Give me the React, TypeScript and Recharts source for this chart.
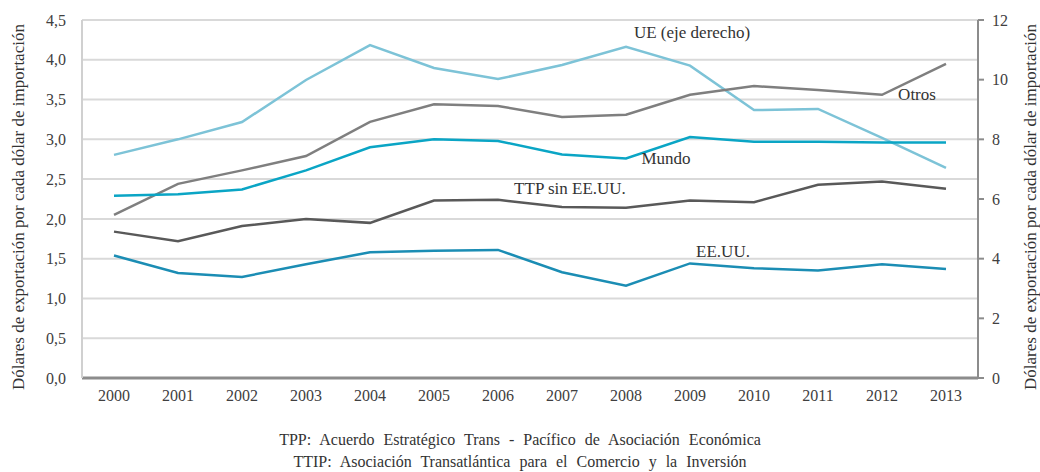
import React from "react";
import {
  LineChart,
  Line,
  XAxis,
  YAxis,
  CartesianGrid,
} from "recharts";

const years = [
  "2000", "2001", "2002", "2003", "2004", "2005", "2006",
  "2007", "2008", "2009", "2010", "2011", "2012", "2013",
];

// eje izquierdo
const mundo = [2.29, 2.31, 2.37, 2.61, 2.9, 3.0, 2.98, 2.81, 2.76, 3.03, 2.97, 2.97, 2.96, 2.96];
const otros = [2.05, 2.44, 2.61, 2.79, 3.22, 3.44, 3.42, 3.28, 3.31, 3.56, 3.67, 3.62, 3.56, 3.95];
const ttpSinEEUU = [1.84, 1.72, 1.91, 2.0, 1.95, 2.23, 2.24, 2.15, 2.14, 2.23, 2.21, 2.43, 2.47, 2.38];
const eeuu = [1.54, 1.32, 1.27, 1.43, 1.58, 1.6, 1.61, 1.33, 1.16, 1.44, 1.38, 1.35, 1.43, 1.37];
// eje derecho
const ue = [7.48, 8.0, 8.58, 9.99, 11.16, 10.39, 10.02, 10.49, 11.1, 10.47, 8.98, 9.02, 8.05, 7.04];

const leftTicks = [0, 0.5, 1, 1.5, 2, 2.5, 3, 3.5, 4, 4.5];
const rightTicks = [0, 2, 4, 6, 8, 10, 12];

const data = years.map((year, i) => ({
  year,
  mundo: mundo[i],
  otros: otros[i],
  ttp: ttpSinEEUU[i],
  eeuu: eeuu[i],
  ue: ue[i],
}));

const FONT = "'Liberation Serif', 'Times New Roman', Times, 'DejaVu Serif', serif";
const TEXT = "#404040";
const AXIS_TITLE = "Dólares de exportación por cada dólar de importación";

const tickStyle = { fontFamily: FONT, fontSize: 16, fill: TEXT };

const axisTitle = (dx: number) => (props: any) => {
  const vb = props.viewBox || {};
  const x = vb.x + dx;
  const y = vb.y + vb.height / 2 + 8;
  return (
    <text
      x={x}
      y={y}
      transform={`rotate(-90, ${x}, ${y})`}
      textAnchor="middle"
      dominantBaseline="central"
      fontFamily={FONT}
      fontSize={17}
      fill="#333"
    >
      {AXIS_TITLE}
    </text>
  );
};

const seriesLabels = [
  { text: "UE (eje derecho)", x: 692, y: 32 },
  { text: "Otros", x: 917, y: 94 },
  { text: "Mundo", x: 666, y: 158 },
  { text: "TTP sin EE.UU.", x: 570, y: 188 },
  { text: "EE.UU.", x: 723, y: 251 },
];

export default function App() {
  return (
    <div
      style={{
        position: "absolute",
        left: 0,
        top: 0,
        width: 1040,
        height: 472,
        background: "#fff",
        fontFamily: FONT,
      }}
    >
      <LineChart
        width={1040}
        height={472}
        data={data}
        margin={{ top: 20, right: 0, bottom: 64, left: 0 }}
      >
        <CartesianGrid
          yAxisId="left"
          vertical={false}
          stroke="#d9d9d9"
          strokeWidth={2}
        />
        <XAxis
          dataKey="year"
          height={30}
          padding={{ left: 32, right: 32 }}
          tickLine={false}
          axisLine={{ stroke: "#8c8c8c", strokeWidth: 3 }}
          tick={tickStyle}
          tickMargin={6}
          interval={0}
        />
        <YAxis
          yAxisId="left"
          width={82}
          domain={[0, 4.5]}
          ticks={leftTicks}
          interval={0}
          tickFormatter={(v: number) => v.toFixed(1).replace(".", ",")}
          tickLine={false}
          axisLine={{ stroke: "#d0d0d0", strokeWidth: 2 }}
          tick={tickStyle}
          tickMargin={10}
          label={{ content: axisTitle(18) }}
        />
        <YAxis
          yAxisId="right"
          orientation="right"
          width={62}
          domain={[0, 12]}
          ticks={rightTicks}
          interval={0}
          tickLine={{ stroke: "#8c8c8c", strokeWidth: 2 }}
          tickSize={6}
          axisLine={{ stroke: "#8c8c8c", strokeWidth: 2 }}
          tick={tickStyle}
          tickMargin={8}
          label={{ content: axisTitle(52) }}
        />
        <Line yAxisId="right" dataKey="ue" stroke="#7dc3d7" strokeWidth={2.5} dot={false} isAnimationActive={false} />
        <Line yAxisId="left" dataKey="otros" stroke="#7f7f7f" strokeWidth={2.5} dot={false} isAnimationActive={false} />
        <Line yAxisId="left" dataKey="mundo" stroke="#0aa5c5" strokeWidth={2.5} dot={false} isAnimationActive={false} />
        <Line yAxisId="left" dataKey="ttp" stroke="#595959" strokeWidth={2.5} dot={false} isAnimationActive={false} />
        <Line yAxisId="left" dataKey="eeuu" stroke="#1b8db4" strokeWidth={2.5} dot={false} isAnimationActive={false} />
      </LineChart>

      {seriesLabels.map((l) => (
        <div
          key={l.text}
          style={{
            position: "absolute",
            left: l.x,
            top: l.y,
            transform: "translate(-50%, -50%)",
            fontSize: 17,
            color: "#333",
            whiteSpace: "nowrap",
            lineHeight: 1,
          }}
        >
          {l.text}
        </div>
      ))}

      <div
        style={{
          position: "absolute",
          left: 0,
          width: 1040,
          top: 429,
          textAlign: "center",
          fontSize: 16,
          color: "#333",
          lineHeight: "22px",
        }}
      >
        <div style={{ wordSpacing: 5 }}>TPP: Acuerdo Estratégico Trans - Pacífico de Asociación Económica</div>
        <div style={{ wordSpacing: 5 }}>TTIP: Asociación Transatlántica para el Comercio y la Inversión</div>
      </div>
    </div>
  );
}
